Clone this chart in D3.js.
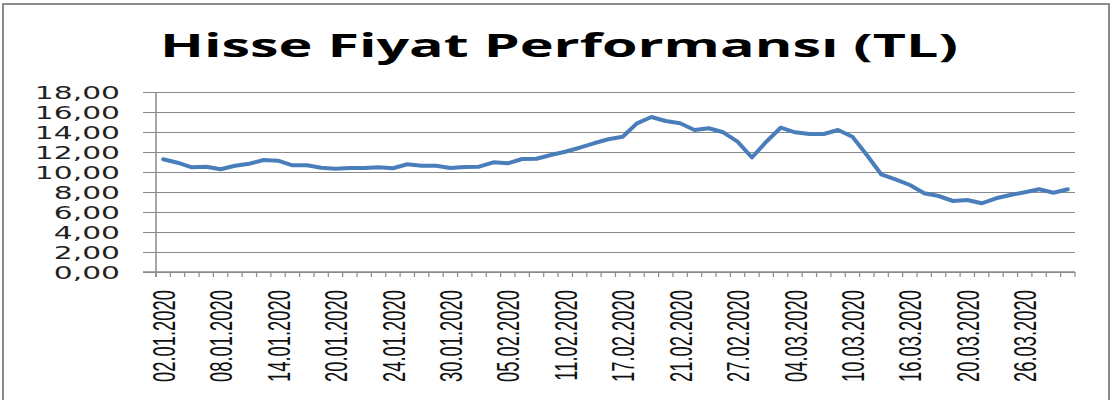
<!DOCTYPE html>
<html>
<head>
<meta charset="utf-8">
<script src="https://cdn.jsdelivr.net/npm/d3@7"></script>
<style>
	body { margin: 0; background: #fff; }
	svg { display: block; }
</style>
</head>
<body>
<svg id="svg_main" width="1114" height="400"></svg>
<script>
var dates = ["02.01.2020", "03.01.2020", "06.01.2020", "07.01.2020", "08.01.2020", "09.01.2020", "10.01.2020", "13.01.2020",
	"14.01.2020", "15.01.2020", "16.01.2020", "17.01.2020", "20.01.2020", "21.01.2020", "22.01.2020", "23.01.2020",
	"24.01.2020", "27.01.2020", "28.01.2020", "29.01.2020", "30.01.2020", "31.01.2020", "03.02.2020", "04.02.2020",
	"05.02.2020", "06.02.2020", "07.02.2020", "10.02.2020", "11.02.2020", "12.02.2020", "13.02.2020", "14.02.2020",
	"17.02.2020", "18.02.2020", "19.02.2020", "20.02.2020", "21.02.2020", "24.02.2020", "25.02.2020", "26.02.2020",
	"27.02.2020", "28.02.2020", "02.03.2020", "03.03.2020", "04.03.2020", "05.03.2020", "06.03.2020", "09.03.2020",
	"10.03.2020", "11.03.2020", "12.03.2020", "13.03.2020", "16.03.2020", "17.03.2020", "18.03.2020", "19.03.2020",
	"20.03.2020", "23.03.2020", "24.03.2020", "25.03.2020", "26.03.2020", "27.03.2020", "30.03.2020", "31.03.2020"];

var prices = [11.27, 10.93, 10.47, 10.53, 10.27, 10.63, 10.83, 11.20,
	11.13, 10.67, 10.67, 10.43, 10.33, 10.40, 10.40, 10.47,
	10.37, 10.77, 10.63, 10.63, 10.40, 10.50, 10.53, 10.97,
	10.87, 11.30, 11.33, 11.70, 12.03, 12.43, 12.87, 13.27,
	13.53, 14.87, 15.50, 15.10, 14.87, 14.20, 14.37, 13.97,
	13.03, 11.45, 13.03, 14.43, 13.97, 13.80, 13.80, 14.20,
	13.53, 11.70, 9.77, 9.27, 8.70, 7.87, 7.60, 7.10,
	7.20, 6.87, 7.37, 7.70, 7.97, 8.27, 7.93, 8.27];

var yTicks = [0, 2, 4, 6, 8, 10, 12, 14, 16, 18];
var xLabels = dates.filter((d, i) => i % 4 == 0);

var title = "Hisse Fiyat Performansı (TL)";

// picture is stretched sideways, so text gets squeezed the same way
var stretch = 1.75;

var svg = d3.select("#svg_main");

var plot = { left: 156, right: 1075, top: 92, bottom: 272 };

var x = d3.scaleBand().domain(dates).range([plot.left, plot.right]).padding(0),
	y = d3.scaleLinear().domain([0, 18]).range([plot.bottom, plot.top]);

// outer frame
svg.append("rect")
	.attr("x", 3)
	.attr("y", 4)
	.attr("width", 1106)
	.attr("height", 410)
	.attr("fill", "none")
	.attr("stroke", "#8c8c8c")
	.attr("stroke-width", 2);

svg.append("text")
	.attr("x", 160)
	.attr("y", 57)
	.attr("font-family", "Open Sans")
	.attr("font-weight", "bold")
	.attr("font-size", "33px")
	.attr("textLength", 798)
	.attr("lengthAdjust", "spacingAndGlyphs")
	.text(title);

// grid + y labels
var yAxis = d3.axisLeft(y)
	.tickValues(yTicks)
	.tickSize(-(plot.right - 143))
	.tickFormat(d => d3.format(".2f")(d).replace(".", ","));

var gy = svg.append("g")
	.attr("class", "yAxis")
	.attr("transform", "translate(143, 0)")
	.call(yAxis);
gy.select(".domain").remove();
gy.selectAll(".tick line")
	.attr("stroke", "#8a8a8a")
	.attr("stroke-width", 1.2);
gy.selectAll(".tick text")
	.attr("x", 0)
	.attr("dy", "0.36em")
	.attr("transform", `translate(-23, 0) scale(${stretch}, 1)`)
	.attr("font-family", "DejaVu Sans")
	.attr("font-size", "17px")
	.attr("fill", "#222");

// x labels
var xAxis = d3.axisBottom(x)
	.tickValues(xLabels)
	.tickSize(0);

var gx = svg.append("g")
	.attr("class", "xAxis")
	.attr("transform", `translate(0, ${plot.bottom})`)
	.call(xAxis);
gx.select(".domain").remove();
gx.selectAll(".tick text")
	.attr("x", 0)
	.attr("y", 0)
	.attr("dy", "0.36em")
	.attr("text-anchor", "end")
	.attr("transform", `translate(0, 18) scale(${stretch}, 1) rotate(-90)`)
	.attr("font-family", "Liberation Sans")
	.attr("font-size", "18.4px")
	.attr("fill", "#111");

// category boundary ticks
var bounds = dates.map(d => x(d)).concat([x.range()[1]]);
svg.append("g")
	.attr("class", "xTicks")
	.selectAll("line")
	.data(bounds)
	.enter().append("line")
	.attr("x1", d => d)
	.attr("x2", d => d)
	.attr("y1", plot.bottom)
	.attr("y2", plot.bottom + 5)
	.attr("stroke", "#8a8a8a")
	.attr("stroke-width", 1.2);

// axis lines
svg.append("line")
	.attr("x1", plot.left)
	.attr("x2", plot.left)
	.attr("y1", plot.top)
	.attr("y2", plot.bottom + 5)
	.attr("stroke", "#8a8a8a")
	.attr("stroke-width", 1.5);
svg.append("line")
	.attr("x1", 143)
	.attr("x2", plot.right)
	.attr("y1", plot.bottom)
	.attr("y2", plot.bottom)
	.attr("stroke", "#8a8a8a")
	.attr("stroke-width", 1.5);

var line = d3.line()
	.x((d, i) => x(dates[i]) + x.bandwidth() / 2)
	.y(d => y(d));

svg.append("path")
	.datum(prices)
	.attr("fill", "none")
	.attr("stroke", "#4a7ebb")
	.attr("stroke-width", 4)
	.attr("stroke-linejoin", "round")
	.attr("stroke-linecap", "round")
	.attr("d", line);
</script>
</body>
</html>
